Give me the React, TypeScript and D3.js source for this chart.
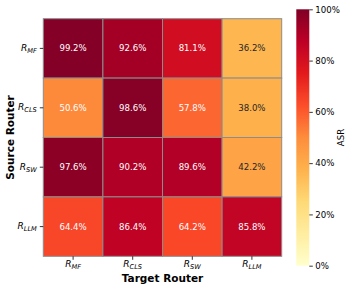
import { useEffect, useRef } from 'react';
import * as d3 from 'd3';

const routers = ['MF', 'CLS', 'SW', 'LLM'];
// rows = source router, columns = target router
const asrValues = [
  [99.2, 92.6, 81.1, 36.2],
  [50.6, 98.6, 57.8, 38.0],
  [97.6, 90.2, 89.6, 42.2],
  [64.4, 86.4, 64.2, 85.8],
];
const cbarTicks = [0, 20, 40, 60, 80, 100];
const ylOrRd = ['#ffffcc', '#ffeda0', '#fed976', '#feb24c', '#fd8d3c', '#fc4e2a', '#e31a1c', '#bd0026', '#800026'];

function luminance(c: string) {
  const rgb = d3.rgb(c);
  const f = (v: number) => {
    const s = v / 255;
    return s <= 0.03928 ? s / 12.92 : Math.pow((s + 0.055) / 1.055, 2.4);
  };
  return 0.2126 * f(rgb.r) + 0.7152 * f(rgb.g) + 0.0722 * f(rgb.b);
}

export default function App() {
  const ref = useRef<SVGSVGElement>(null);

  useEffect(() => {
    if (!ref.current) return;
    const svg = d3.select(ref.current);
    svg.selectAll('*').remove();
    const font = 'DejaVu Sans, sans-serif';

    const left = 43.3, right = 281.7, top = 18.7, bottom = 256.3;
    const x = d3.scaleBand<number>().domain(d3.range(4)).range([left, right]);
    const y = d3.scaleBand<number>().domain(d3.range(4)).range([top, bottom]);
    const color = d3.scaleLinear<string>()
      .domain(ylOrRd.map((_, i) => (i * 100) / (ylOrRd.length - 1)))
      .range(ylOrRd)
      .interpolate(d3.interpolateRgb);

    const cells = asrValues.flatMap((row, r) => row.map((v, c) => ({ r, c, v })));
    svg.append('g').selectAll('rect').data(cells).enter().append('rect')
      .attr('x', d => x(d.c)!).attr('y', d => y(d.r)!)
      .attr('width', x.bandwidth()).attr('height', y.bandwidth())
      .attr('fill', d => color(d.v))
      .attr('stroke', '#8c8c8c').attr('stroke-width', 1);

    svg.append('g').selectAll('text').data(cells).enter().append('text')
      .attr('x', d => x(d.c)! + x.bandwidth() / 2)
      .attr('y', d => y(d.r)! + y.bandwidth() / 2)
      .attr('text-anchor', 'middle').attr('dominant-baseline', 'central')
      .attr('font-family', font).attr('font-size', 8.6)
      .attr('fill', d => (luminance(color(d.v)) > 0.408 ? '#262626' : '#ffffff'))
      .text(d => `${d.v.toFixed(1)}%`);

    const addLabel = (g: d3.Selection<SVGTextElement, unknown, null, undefined>, name: string) => {
      g.append('tspan').attr('font-style', 'italic').attr('font-size', 9).text('R');
      g.append('tspan').attr('font-style', 'italic').attr('font-size', 6.6).attr('dy', 2).text(name);
    };

    // y ticks
    routers.forEach((name, i) => {
      const cy = y(i)! + y.bandwidth() / 2;
      svg.append('line').attr('x1', left - 3.5).attr('x2', left).attr('y1', cy).attr('y2', cy)
        .attr('stroke', '#000').attr('stroke-width', 0.8);
      const t = svg.append('text').attr('x', left - 6.5).attr('y', cy + 2.5)
        .attr('text-anchor', 'end').attr('font-family', font).attr('fill', '#000');
      addLabel(t as any, name);
    });
    // x ticks
    routers.forEach((name, i) => {
      const cx = x(i)! + x.bandwidth() / 2;
      svg.append('line').attr('x1', cx).attr('x2', cx).attr('y1', bottom).attr('y2', bottom + 3.5)
        .attr('stroke', '#000').attr('stroke-width', 0.8);
      const t = svg.append('text').attr('x', cx).attr('y', bottom + 10.5)
        .attr('text-anchor', 'middle').attr('font-family', font).attr('fill', '#000');
      addLabel(t as any, name);
    });

    svg.append('text').attr('x', (left + right) / 2).attr('y', 281.5)
      .attr('text-anchor', 'middle').attr('font-family', font).attr('font-weight', 'bold')
      .attr('font-size', 10.5).text('Target Router');
    svg.append('text')
      .attr('transform', `translate(14,${(top + bottom) / 2}) rotate(-90)`)
      .attr('text-anchor', 'middle').attr('font-family', font).attr('font-weight', 'bold')
      .attr('font-size', 10.5).text('Source Router');

    // colorbar
    const cbX = 296.3, cbW = 13, cbTop = 9.3, cbBottom = 265.7;
    const cy = d3.scaleLinear().domain([0, 100]).range([cbBottom, cbTop]);
    const defs = svg.append('defs');
    const grad = defs.append('linearGradient').attr('id', 'cbgrad')
      .attr('x1', '0%').attr('y1', '100%').attr('x2', '0%').attr('y2', '0%');
    ylOrRd.forEach((c, i) => {
      grad.append('stop').attr('offset', `${(i / (ylOrRd.length - 1)) * 100}%`).attr('stop-color', c);
    });
    svg.append('rect').attr('x', cbX).attr('y', cbTop).attr('width', cbW)
      .attr('height', cbBottom - cbTop).attr('fill', 'url(#cbgrad)');
    svg.append('g').attr('transform', `translate(${cbX + cbW},0)`)
      .call(d3.axisRight(cy).tickValues(cbarTicks).tickSize(3.5).tickPadding(2.5).tickFormat(d => `${d}%`))
      .call(g => g.select('.domain').remove())
      .call(g => g.selectAll('text').attr('font-family', font).attr('font-size', 8.6).attr('fill', '#000'))
      .call(g => g.selectAll('line').attr('stroke', '#000').attr('stroke-width', 0.8));
    svg.append('text')
      .attr('transform', `translate(344,${(cbTop + cbBottom) / 2}) rotate(-90)`)
      .attr('text-anchor', 'middle').attr('font-family', font)
      .attr('font-size', 8.6).text('ASR');
  }, []);

  return (
    <svg ref={ref} width={357} height={290}
      style={{ position: 'absolute', left: 0, top: 0, background: '#fff' }} />
  );
}
